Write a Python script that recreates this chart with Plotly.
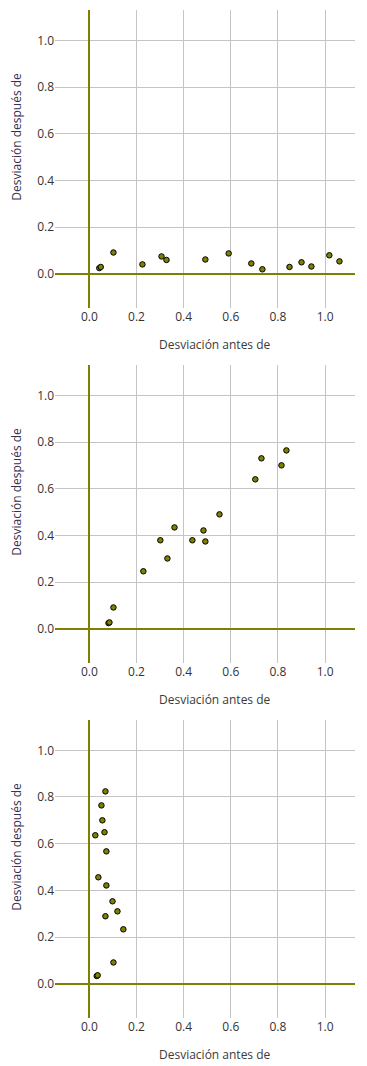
import plotly.graph_objects as go
from plotly.subplots import make_subplots

x1 = [0.042, 0.048, 0.102, 0.225, 0.306, 0.327, 0.492, 0.591, 0.687, 0.734, 0.849, 0.900, 0.942, 1.018, 1.061]
y1 = [0.024, 0.029, 0.091, 0.040, 0.074, 0.059, 0.061, 0.087, 0.044, 0.019, 0.029, 0.049, 0.031, 0.079, 0.053]

x2 = [0.081, 0.085, 0.102, 0.229, 0.301, 0.331, 0.361, 0.437, 0.484, 0.492, 0.552, 0.704, 0.730, 0.815, 0.836]
y2 = [0.024, 0.027, 0.091, 0.246, 0.379, 0.301, 0.434, 0.379, 0.421, 0.374, 0.490, 0.640, 0.730, 0.700, 0.764]

x3 = [0.031, 0.035, 0.102, 0.144, 0.119, 0.098, 0.068, 0.072, 0.038, 0.072, 0.025, 0.064, 0.055, 0.051, 0.068]
y3 = [0.033, 0.036, 0.091, 0.233, 0.310, 0.353, 0.289, 0.421, 0.456, 0.567, 0.636, 0.649, 0.700, 0.764, 0.824]

x_title = "Desviación antes de"
y_title = "Desviación después de"
tick_vals = [0.0, 0.2, 0.4, 0.6, 0.8, 1.0]

OLIVE = "#808000"
FONT = "Open Sans"

fig = make_subplots(rows=3, cols=1, vertical_spacing=0.0565)

for i, (xs, ys) in enumerate([(x1, y1), (x2, y2), (x3, y3)], start=1):
    fig.add_trace(go.Scatter(
        x=xs, y=ys, mode="markers",
        marker=dict(size=5.5, color=OLIVE, line=dict(color="#000000", width=1)),
        showlegend=False, hoverinfo="x+y"), row=i, col=1)
    fig.update_xaxes(range=[-0.146, 1.127], tickvals=tick_vals, tickformat=".1f",
                     showgrid=True, gridcolor="#c4c4c4", gridwidth=1,
                     zeroline=True, zerolinecolor=OLIVE, zerolinewidth=2,
                     showline=False, ticks="", automargin=False,
                     tickfont=dict(size=12, color="#333333", family=FONT),
                     row=i, col=1)
    fig.update_yaxes(range=[-0.147, 1.13], tickvals=tick_vals, tickformat=".1f",
                     showgrid=True, gridcolor="#c4c4c4", gridwidth=1,
                     zeroline=True, zerolinecolor=OLIVE, zerolinewidth=2,
                     showline=False, ticks="", automargin=False,
                     tickfont=dict(size=12, color="#333333", family=FONT),
                     row=i, col=1)
    sfx = "" if i == 1 else str(i)
    # axis titles
    fig.add_annotation(text=x_title, xref=f"x{sfx} domain", yref=f"y{sfx} domain",
                       x=0.532, y=0, xanchor="center", yanchor="middle", yshift=-36,
                       showarrow=False, font=dict(size=12, color="#3a3a3a", family=FONT))
    fig.add_annotation(text=y_title, xref=f"x{sfx} domain", yref=f"y{sfx} domain",
                       x=0, y=0.575, xanchor="center", yanchor="middle", xshift=-38,
                       textangle=-90, showarrow=False,
                       font=dict(size=12, color="#3a3050", family=FONT))

# page body has an 8px default margin, so the figure is sized to fit the window
fig.update_layout(
    width=359, height=1058,
    margin=dict(l=47, r=12, t=2, b=48),
    paper_bgcolor="white", plot_bgcolor="white",
    font=dict(family=FONT, size=12, color="#333333"),
)

fig.write_html("out.html")
